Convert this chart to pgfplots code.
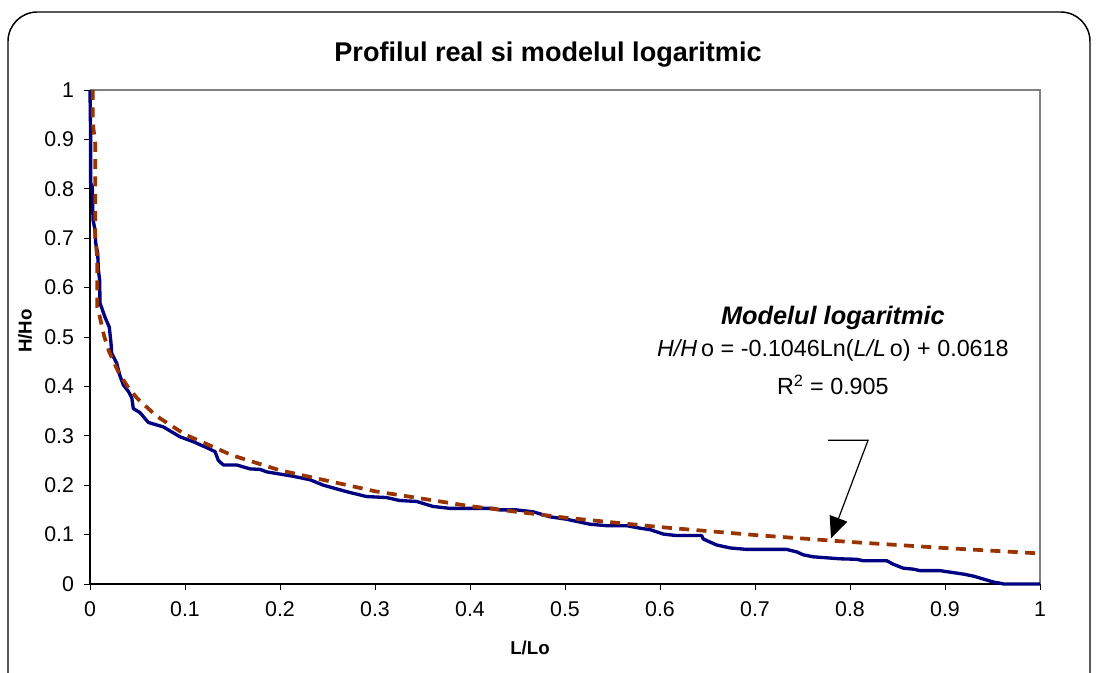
\documentclass[border=0pt]{standalone}
\usepackage{fontspec}
\setmainfont{Liberation Sans}
\usepackage{pgfplots}
\pgfplotsset{compat=1.18}
\usetikzlibrary{arrows.meta}
\definecolor{navyline}{HTML}{000080}
\definecolor{trend}{HTML}{993300}
\definecolor{bordergray}{HTML}{808080}
\begin{document}
\begin{tikzpicture}
\begin{axis}[
  scale only axis, width=712.5pt, height=370.5pt,
  xmin=0, xmax=1, ymin=0, ymax=1,
  xtick={0,0.1,0.2,0.3,0.4,0.5,0.6,0.7,0.8,0.9,1},
  ytick={0,0.1,0.2,0.3,0.4,0.5,0.6,0.7,0.8,0.9,1},
  axis x line*=bottom, axis y line*=left,
  axis line style={-, black, line width=0.8pt},
  tick align=outside, major tick length=4.5pt,
  tick style={black, line width=0.6pt},
  /pgf/number format/assume math mode=true,
  ticklabel style={font=\fontsize{16}{19}\selectfont},
  xticklabel style={yshift=-5.5pt},
  yticklabel style={xshift=-4pt},
  clip=false,
]
\coordinate (o) at (rel axis cs:0,0);
\draw[bordergray, line width=1pt] (rel axis cs:0,1) -- (rel axis cs:1,1) -- (rel axis cs:1,0);
\addplot[navyline, line width=2.5pt, line join=round] coordinates {
(0,1.0) (0.0007,0.899) (0.0007,0.811) (0.0024,0.805) (0.0032,0.737)
(0.0053,0.717) (0.006,0.69) (0.0081,0.67) (0.0088,0.636) (0.0102,0.615)
(0.0105,0.569) (0.0158,0.54) (0.0203,0.52) (0.0221,0.488) (0.0228,0.467)
(0.0281,0.447) (0.0316,0.421) (0.0351,0.403) (0.0404,0.39) (0.044,0.377)
(0.0456,0.355) (0.0526,0.347) (0.0614,0.327) (0.0772,0.318) (0.0947,0.298)
(0.1088,0.288) (0.1228,0.276) (0.1316,0.268) (0.1351,0.25) (0.1404,0.241)
(0.1544,0.241) (0.1684,0.233) (0.1789,0.232) (0.186,0.227) (0.214,0.218)
(0.2316,0.211) (0.2456,0.2) (0.27,0.187) (0.291,0.177) (0.312,0.175)
(0.326,0.169) (0.344,0.167) (0.361,0.157) (0.379,0.153) (0.4246,0.153)
(0.4316,0.150) (0.449,0.150) (0.4667,0.146) (0.4842,0.136) (0.5018,0.131)
(0.5263,0.121) (0.5439,0.118) (0.565,0.118) (0.5789,0.113) (0.5895,0.110)
(0.6035,0.101) (0.6175,0.098) (0.6439,0.098) (0.6456,0.091) (0.6596,0.079)
(0.6737,0.073) (0.6912,0.070) (0.7333,0.070) (0.7439,0.065) (0.7509,0.059)
(0.7614,0.055) (0.7895,0.051) (0.8070,0.050) (0.8140,0.047) (0.8386,0.047)
(0.8456,0.040) (0.8561,0.032) (0.8667,0.030) (0.8737,0.027) (0.8947,0.027)
(0.9088,0.023) (0.9193,0.020) (0.9298,0.016) (0.9404,0.010) (0.9509,0.004)
(0.9596,0.001) (0.9614,0) (1,0)
};
\addplot[trend, line width=2.8pt, dash pattern=on 7.5pt off 5.5pt] coordinates {
(0.0028,1.0) (0.0028,0.935) (0.0056,0.89) (0.0056,0.70) (0.0077,0.66)
(0.0077,0.56) (0.010,0.5435) (0.015,0.501) (0.020,0.471) (0.030,0.4286)
(0.040,0.3985) (0.050,0.3752) (0.070,0.340) (0.100,0.3027) (0.150,0.2602)
(0.200,0.2301) (0.300,0.1877) (0.400,0.1576) (0.500,0.1343) (0.600,0.1152)
(0.700,0.0991) (0.800,0.0851) (0.900,0.0728) (1.000,0.0618)
};
\node[font=\fontsize{19}{22}\selectfont\bfseries\itshape] at (axis cs:0.782,0.538) {Modelul logaritmic};
\node[font=\fontsize{17.5}{21}\selectfont] at (axis cs:0.782,0.472) {\textit{H/H}\,o = -0.1046Ln(\textit{L/L}\,o) + 0.0618};
\node[font=\fontsize{17.5}{21}\selectfont] at (axis cs:0.782,0.403) {R\textsuperscript{2} = 0.905};
\draw[black, line width=0.9pt, -{Triangle[length=16pt,width=14pt]}] (axis cs:0.777,0.291) -- (axis cs:0.819,0.291) -- (axis cs:0.780,0.0925);
\end{axis}
\node[font=\fontsize{20.3}{24}\selectfont\bfseries] at ([shift={(343.5pt,396.75pt)}]o) {Profilul real si modelul logaritmic};
\node[font=\fontsize{14}{17}\selectfont\bfseries, rotate=90] at ([shift={(-48.75pt,189.75pt)}]o) {H/Ho};
\node[font=\fontsize{14}{17}\selectfont\bfseries] at ([shift={(330pt,-48pt)}]o) {L/Lo};
\path[use as bounding box] ([shift={(-67.5pt,-66.75pt)}]o) rectangle ([shift={(755.25pt,438pt)}]o);
\draw[black, line width=1.1pt, rounded corners=22pt] ([shift={(-61.5pt,-100pt)}]o) rectangle ([shift={(750pt,429pt)}]o);
\end{tikzpicture}
\end{document}
